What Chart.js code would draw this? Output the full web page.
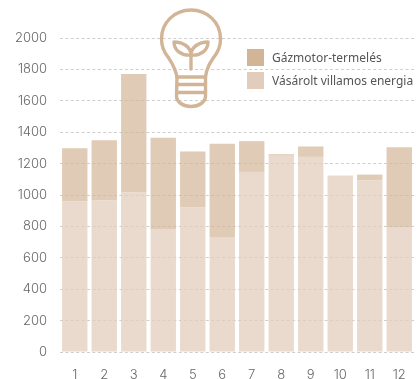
<!DOCTYPE html>
<html>
<head>
<meta charset="utf-8">
<script src="https://cdn.jsdelivr.net/npm/chart.js@4"></script>
<style>
body { margin: 0; background: #fff; }
#wrap { position: relative; width: 417px; height: 379px; overflow: hidden; }
#bulb { position: absolute; left: 150px; top: 0; }
#legend { position: absolute; left: 247px; top: 49px; font: 12px "Noto Sans", sans-serif; color: #555; }
#legend div { display: flex; align-items: center; height: 17px; margin-bottom: 6px; white-space: nowrap; }
#legend span { display: inline-block; width: 17px; height: 17px; margin-right: 8px; }
</style>
</head>
<body>
<div id="wrap">
    <canvas id="myChart" width="417" height="379"></canvas>
    <svg id="bulb" width="84" height="112" viewBox="150 0 84 112" fill="none" stroke="#d2b597" stroke-width="3.4" stroke-linecap="round" stroke-linejoin="round">
        <path d="M177 77 C175 67 172 63 168 57 C164 52 161.500 46 161.500 39 C161.500 22 175 10 191 10 C207 10 220.500 22 220.500 39 C220.500 46 218 52 214 57 C210 63 207 67 205.500 77 L205.500 96 C205.500 102 199 106.500 191 106.500 C183 106.500 176.500 102 176.500 96 Z"/>
        <path d="M177 77 H205.500 M177 84.500 H205.500 M177 92.500 H205.500"/>
        <path d="M191 69 V55 C191 47 183 42 174 42 C174 50 181 56 191 55 C201 56 208 50 208 42 C199 42 191 47 191 55"/>
    </svg>
    <div id="legend"></div>
</div>
<script>
let categories = ['1', '2', '3', '4', '5', '6', '7', '8', '9', '10', '11', '12'];
let purchased = [960, 966, 1018, 784, 922, 733, 1147, 1250, 1243, 1124, 1094, 796];
let gasEngine = [338, 382, 752, 580, 355, 593, 196, 10, 66, 0, 36, 508];
let seriesNames = ['Gázmotor-termelés', 'Vásárolt villamos energia'];
let yTicks = [0, 200, 400, 600, 800, 1000, 1200, 1400, 1600, 1800, 2000];

let fontFamily = 'Inter, sans-serif';

let ctx = document.querySelector('#myChart').getContext('2d');

let graphData = {
    type: 'bar',
    data: {
        labels: categories,
        datasets: [
            {
                label: seriesNames[1],
                data: purchased,
                backgroundColor: 'rgba(226, 205, 188, 0.75)',
                legendColor: '#e2cdbc'
            },
            {
                label: seriesNames[0],
                data: gasEngine,
                backgroundColor: 'rgba(210, 181, 151, 0.7)',
                legendColor: '#d2b597'
            }
        ]
    },
    options: {
        responsive: false,
        animation: false,
        layout: { padding: { top: 38, right: 3, bottom: 0, left: 0 } },
        datasets: { bar: { categoryPercentage: 1, barPercentage: 0.86 } },
        plugins: { legend: { display: false }, tooltip: { enabled: false } },
        scales: {
            x: {
                stacked: true,
                afterFit: function (scale) { scale.height = 27; },
                grid: { display: false },
                border: { display: false },
                ticks: { color: '#666', font: { family: fontFamily, size: 13, weight: 300 }, padding: 7, maxRotation: 0 }
            },
            y: {
                stacked: true,
                min: 0,
                max: 2000,
                afterFit: function (scale) { scale.width = 60; },
                afterBuildTicks: function (scale) { scale.ticks = yTicks.map(function (v) { return { value: v }; }); },
                grid: { color: '#cfcfcf', tickLength: 0, drawTicks: false },
                border: { display: false, dash: [3, 2.4] },
                ticks: {
                    color: '#666',
                    font: { family: fontFamily, size: 13, weight: 300 },
                    padding: 13,
                    callback: function (value) { return String(value); }
                }
            }
        }
    }
};

let myChart = new Chart(ctx, graphData);

// legend order is the reverse of the stacking
let legend = document.querySelector('#legend');
graphData.data.datasets.slice().reverse().forEach(function (ds) {
    let row = document.createElement('div');
    let box = document.createElement('span');
    box.style.background = ds.legendColor;
    row.appendChild(box);
    row.appendChild(document.createTextNode(ds.label));
    legend.appendChild(row);
});
</script>
</body>
</html>
